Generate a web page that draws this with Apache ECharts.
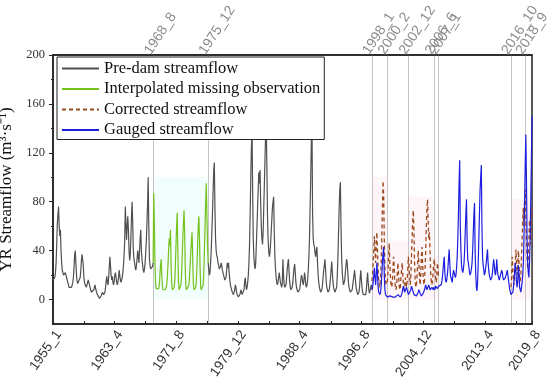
<!DOCTYPE html>
<html><head><meta charset="utf-8">
<script src="https://cdn.jsdelivr.net/npm/echarts@6/dist/echarts.min.js"></script>
<style>html,body{margin:0;padding:0;background:#fff}#c{width:550px;height:379px}</style>
</head><body><div id="c"></div>
<script>
// ---- categories (monthly, 1955_1 .. 2019_8)
const months = [];
for (let y = 1955; y <= 2019; y++) for (let m = 1; m <= 12; m++) { if (y === 2019 && m > 8) break; months.push(y + '_' + m); }

// ---- tick labels
const bottomLabels = ['1955_1','1963_4','1971_8','1979_12','1988_4','1996_8','2004_12','2013_4','2019_8'];
const bottomTicks = ['1955_1','1959_3','1963_4','1967_7','1971_8','1975_11','1979_12','1984_3','1988_4','1992_7','1996_8','2000_11','2004_12','2009_3','2013_4','2017_7','2019_8'];
const eventLabels = ['1968_8','1975_12','1998_1','2000_2','2002_12','2006_6','2007_1','2016_10','2018_9'];
const yLabels = [0, 40, 80, 120, 160, 200];
const yMinorTicks = [20, 60, 100, 140, 180];

// ---- series values (m3/s), monthly
const preDamA_start = '1955_1';
const preDamA = [
 16,15,16,18,22,30,45,62,70,76,60,52,
 57,40,30,24,22,20,19,20,22,21,18,16,
 14,12,10,9,9,9,10,12,14,18,26,36,
 40,30,20,15,13,12,12,14,18,24,32,37,
 38,28,18,14,12,11,10,12,14,16,15,12,
 10,8,6,5,5,6,8,10,12,9,7,5,
 4,3,2,1,1,2,3,4,6,5,4,3,
 6,10,15,19,14,12,18,26,35,28,20,16,
 19,14,12,15,20,22,18,14,12,14,18,24,
 20,16,14,15,18,22,28,36,48,76,62,49,
 60,68,58,40,32,36,50,68,80,62,40,33,
 30,26,24,28,33,40,35,30,40,50,57,40,
 33,28,24,22,25,30,38,48,62,78,100,60,
 33,28,25,24,25,27,30
];
const interp_start = '1968_7';
const interp = [
 30,87,62,30,14,9,
 8,8,8,9,12,20,28,33,20,11,8,8,
 8,8,8,9,12,18,28,40,50,44,57,30,
 14,8,8,8,10,15,28,45,60,71,40,15,
 8,8,9,12,20,35,50,62,73,55,25,10,
 8,8,8,9,12,20,30,40,48,55,35,14,
 8,8,8,10,16,28,45,60,68,50,25,10,
 8,8,9,12,22,40,60,80,95,70,45,30
];
const preDamB_start = '1975_12';
const preDamB = [
 30,
 25,20,22,30,40,55,70,88,105,112,75,50,
 40,36,34,30,28,25,24,27,30,28,24,22,
 20,18,16,15,18,24,30,26,30,22,16,12,
 10,8,6,5,4,5,8,12,10,6,4,3,
 2,2,3,5,8,6,4,3,5,8,14,18,
 12,8,10,14,20,30,45,70,100,125,140,90,
 50,35,28,25,30,45,60,75,90,104,95,106,
 80,60,50,45,55,75,95,115,135,145,110,70,
 50,40,35,38,45,55,65,75,80,84,55,35,
 25,18,14,12,14,18,22,18,14,12,10,14,
 33,20,12,10,9,12,18,25,30,33,22,14,
 10,8,8,10,14,20,26,29,22,14,10,8,
 6,5,6,8,12,16,20,18,14,12,16,22,
 18,12,10,12,16,24,35,50,75,100,130,145,
 70,50,45,43,38,35,40,43,30,20,14,10,
 8,6,6,8,12,18,24,28,33,25,15,10,
 8,6,6,8,12,18,25,31,22,14,10,8,
 6,5,6,10,20,35,55,75,90,96,60,35,
 22,16,12,12,16,22,28,33,30,22,14,10,
 8,6,5,6,8,12,16,20,24,18,12,8,
 6,4,4,6,10,18,24,16,10,6,4,5,
 4,3,4,8,16,22,14,8,5,4,6,12,
 8
];
const gauged_start = '1998_1';
const gauged = [
 8,10,14,20,26,18,12,20,30,22,10,6,
 5,4,6,12,20,30,38,43,20,8,4,3,
 3,2,2,2,2,3,3,3,2,2,2,2,
 2,2,2,2,3,3,4,4,3,3,2,3,
 4,6,9,11,8,6,5,7,10,9,6,4,
 3,3,5,8,11,12,10,6,4,3,3,4,
 3,3,4,6,8,7,5,4,3,3,4,5,
 6,8,10,12,10,8,7,9,12,10,8,7,
 8,10,9,8,10,9,8,11,12,10,9,10,
 11,12,10,11,12,14,18,24,30,35,22,16,
 14,16,20,26,34,41,30,20,18,16,14,20,
 24,22,20,18,20,26,35,50,70,95,114,60,
 40,28,24,22,25,30,40,55,70,82,50,33,
 30,26,22,20,22,25,30,40,55,70,79,40,
 20,10,7,15,30,50,70,90,100,110,60,35,
 28,24,20,22,26,30,36,41,30,24,20,18,
 16,15,18,22,28,33,28,22,20,25,33,24,
 20,18,16,18,20,22,24,22,18,16,15,16,
 18,20,22,24,20,16,12,8,6,4,4,5,
 6,10,16,24,30,22,14,10,16,28,20,10,
 8,6,10,14,20,30,50,80,110,135,100,50,
 30,22,18,30,50,80,115,150
];
const correctedA_start = '1998_1';
const correctedA = [
 15,20,30,40,52,40,30,45,55,40,25,15,
 10,12,18,30,50,75,97,85,50,25,15,12,
 12,15,22,35,46,30,18,12,10,14,25,35,
 28,15,10,8,12,20,30,22,12,8,10,18,
 25,30,20,12,8,10,18,14,10,15,25,35,
 28,18,12,20,35,50,65,73,55,30,15,10,
 12,20,30,40,30,18,12,20,35,43,30,18,
 12,15,25,40,60,75,82,65,50,55,40,22,
 15,12,15,22,30,33,25,18,14,20,30,25,
 18
];
const correctedB_start = '2016_10';
const correctedB = [
 10,20,35,
 25,15,12,20,30,41,30,20,28,40,30,18,
 15,20,35,50,65,75,60,80,90,70,50,35,
 25,35,50,65,57,45,60,75
];
// shaded bands [from, to, upper value]
const interpBand = [['1968_8','1975_12',100]];
const correctedBands = [['1998_1','2000_1',100],['2000_1','2003_1',48],['2003_1','2006_4',84],['2006_4','2007_1',36],['2016_10','2019_8',82]];

function place(start, arr) {
  const out = new Array(months.length).fill(null);
  const s = months.indexOf(start);
  arr.forEach((v, i) => { out[s + i] = v; });
  return out;
}
function merge(a, b) { return a.map((v, i) => v !== null ? v : b[i]); }
const idxSet = list => new Set(list.map(l => months.indexOf(l)));
const bLab = idxSet(bottomLabels), bTick = idxSet(bottomTicks), evSet = idxSet(eventLabels);

const serif = 'Liberation Serif', sans = 'Liberation Sans';
const chart = echarts.init(document.getElementById('c'), null, { renderer: 'canvas' });
chart.setOption({
  animation: false,
  backgroundColor: '#fff',
  grid: { left: 53, right: 18, top: 55, bottom: 55, containLabel: false, outerBoundsMode: 'none',
          show: true, borderColor: '#222', borderWidth: 1.5, backgroundColor: 'transparent' },
  legend: {
    orient: 'vertical', left: 57, top: 57,
    backgroundColor: '#fff', borderColor: '#222', borderWidth: 1, borderRadius: 0,
    padding: [2, 4, 0, 4], itemGap: 1.5, itemWidth: 37, itemHeight: 14,
    itemStyle: { opacity: 0 },
    textStyle: { fontFamily: serif, fontSize: 16.5, color: '#111', lineHeight: 19 },
    data: ['Pre-dam streamflow', 'Interpolated missing observation', 'Corrected streamflow', 'Gauged streamflow']
  },
  xAxis: [{
    type: 'category', data: months, boundaryGap: false, position: 'bottom',
    axisLine: { onZero: false, lineStyle: { color: '#222', width: 1.5 } },
    axisTick: { inside: true, length: 3, interval: (i) => bTick.has(i), lineStyle: { color: '#222' } },
    axisLabel: { interval: (i) => bLab.has(i), hideOverlap: false, showMinLabel: true, showMaxLabel: true, rotate: 55, verticalAlign: 'top', margin: 4, fontFamily: sans, fontSize: 13.5, color: '#333' },
    splitLine: { show: false }
  }, {
    type: 'category', data: months, boundaryGap: false, position: 'top',
    axisLine: { show: true, onZero: false, lineStyle: { color: '#222', width: 1.5 } },
    axisTick: { show: false },
    axisLabel: { interval: 0, formatter: (v, i) => evSet.has(i) ? v : '', hideOverlap: false, rotate: -57, verticalAlign: 'bottom', margin: -2, fontFamily: sans, fontSize: 14, color: '#8c8c8c' },
    splitLine: { show: true, interval: (i) => evSet.has(i), lineStyle: { color: '#c4c4c4', width: 1 } }
  }],
  yAxis: [{
    type: 'value', min: -20, max: 200, position: 'left',
    name: 'YR Streamflow (m³·s⁻¹)', nameLocation: 'middle', nameGap: 30, nameRotate: 90,
    nameTextStyle: { fontFamily: serif, fontSize: 17, color: '#111' },
    axisLine: { show: true, onZero: false, lineStyle: { color: '#222', width: 1.5 } },
    axisTick: { show: true, length: 4, customValues: yLabels, lineStyle: { color: '#222' } },
    axisLabel: { customValues: yLabels, margin: 8, fontFamily: serif, fontSize: 12.5, color: '#333' },
    splitLine: { show: false }
  }, {
    type: 'value', min: -20, max: 200, position: 'left',
    axisLine: { show: false, onZero: false },
    axisTick: { show: true, length: 2, customValues: yMinorTicks, lineStyle: { color: '#222' } },
    axisLabel: { show: false },
    splitLine: { show: false }
  }],
  series: [{
    name: 'Pre-dam streamflow', type: 'line', symbol: 'none', showSymbol: false,
    data: merge(place(preDamA_start, preDamA), place(preDamB_start, preDamB)),
    lineStyle: { color: '#505050', width: 1.2 }, itemStyle: { color: '#505050' },
    markArea: { silent: true, itemStyle: { color: 'rgba(160,240,240,0.14)' },
      data: interpBand.map(b => [{ xAxis: b[0], yAxis: 0 }, { xAxis: b[1], yAxis: b[2] }]) }
  }, {
    name: 'Interpolated missing observation', type: 'line', symbol: 'none', showSymbol: false,
    data: place(interp_start, interp),
    lineStyle: { color: '#74c21c', width: 1.2 }, itemStyle: { color: '#74c21c' }
  }, {
    name: 'Corrected streamflow', type: 'line', symbol: 'none', showSymbol: false,
    data: merge(place(correctedA_start, correctedA), place(correctedB_start, correctedB)),
    lineStyle: { color: '#9c4a1e', width: 1.3, type: [4, 3] }, itemStyle: { color: '#9c4a1e' },
    markArea: { silent: true, itemStyle: { color: 'rgba(250,185,205,0.14)' },
      data: correctedBands.map(b => [{ xAxis: b[0], yAxis: 0 }, { xAxis: b[1], yAxis: b[2] }]) }
  }, {
    name: 'Gauged streamflow', type: 'line', symbol: 'none', showSymbol: false,
    data: place(gauged_start, gauged),
    lineStyle: { color: '#1e1ee0', width: 1.2 }, itemStyle: { color: '#1e1ee0' }
  }]
});
</script></body></html>
